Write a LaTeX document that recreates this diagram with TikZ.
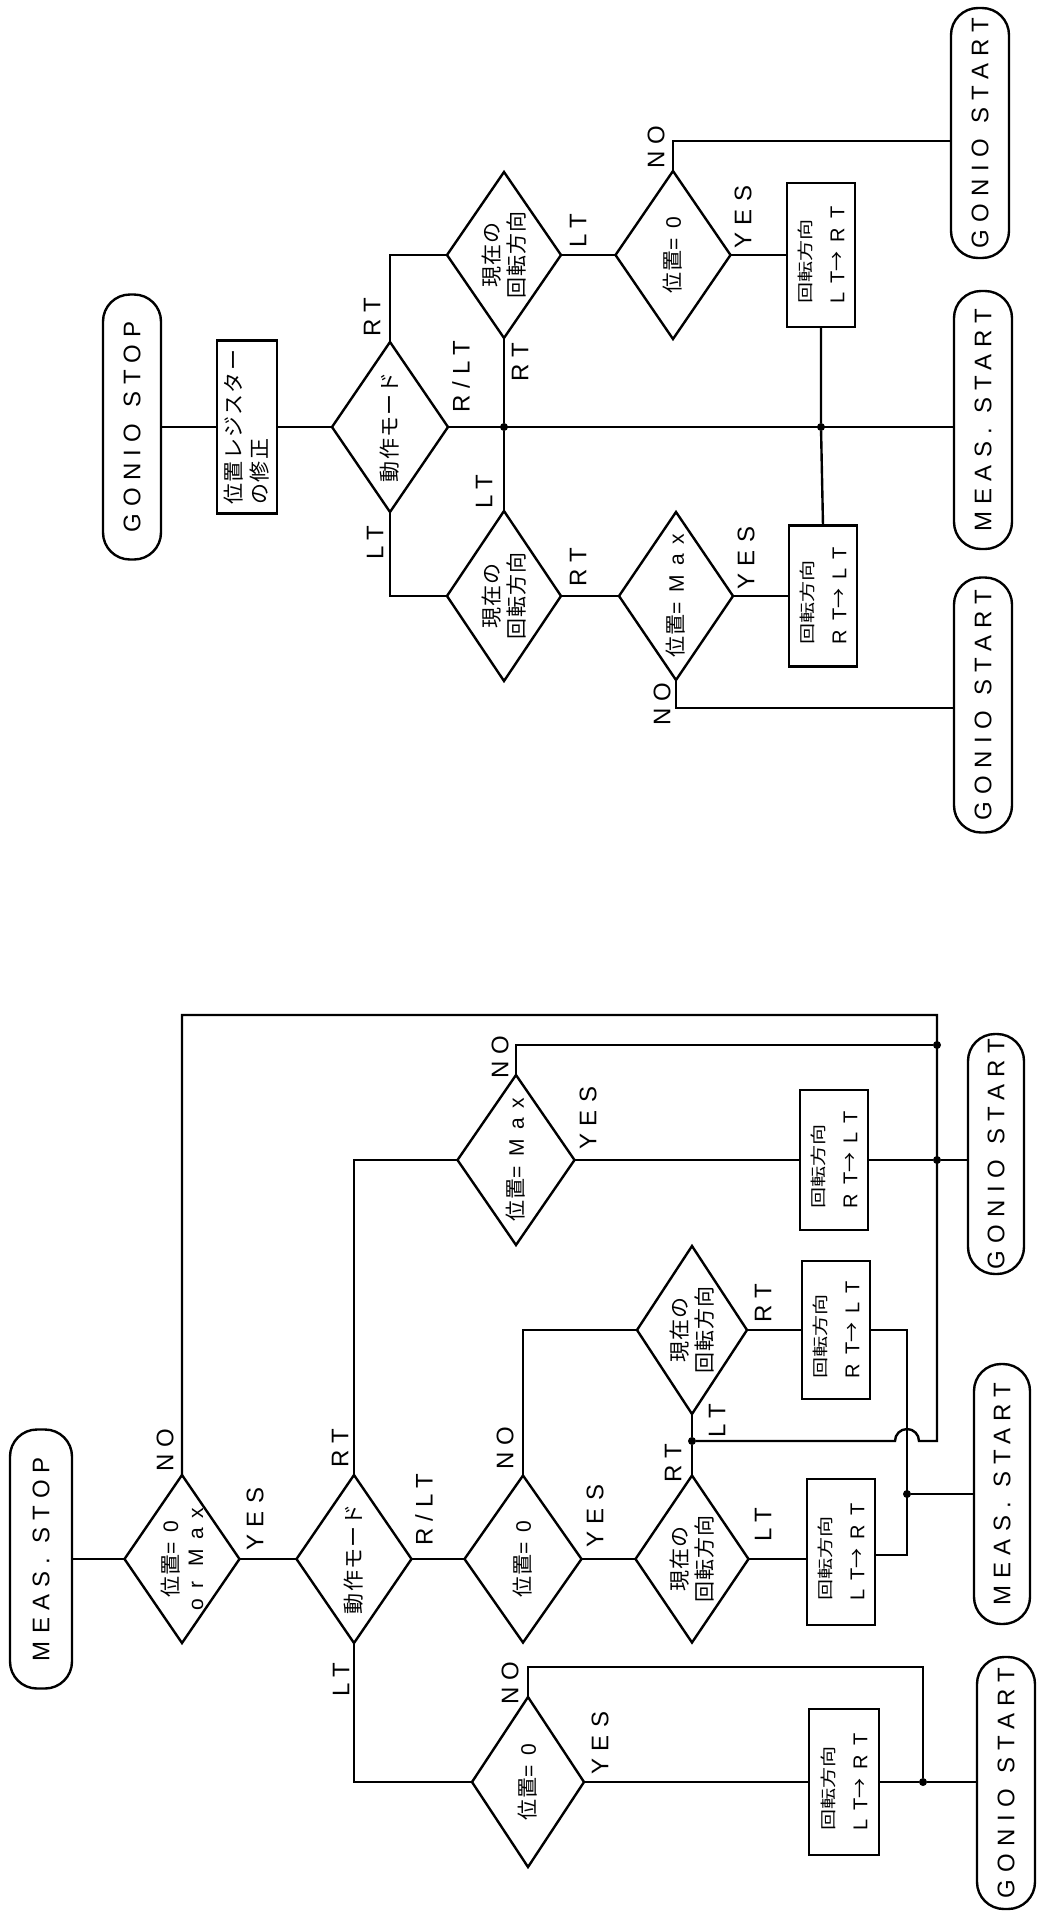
\documentclass[tikz,border=0pt]{standalone}
\usepackage{fontspec}
\usepackage{graphicx}
\usetikzlibrary{shapes.geometric}
\newfontfamily\jp[LetterSpace=6]{Noto Sans CJK JP}
\newfontfamily\jpa{Noto Sans CJK JP}
\newfontfamily\lat[LetterSpace=30]{Liberation Sans}
\newfontfamily\latw[LetterSpace=45]{Liberation Sans}
\newfontfamily\latb[LetterSpace=50]{Liberation Sans}
\newcommand\kaiten{\scalebox{1.32}[1]{\jpa\fontsize{16pt}{20pt}\selectfont 回転方向}}
\newcommand\bxl[2]{{\fontsize{20pt}{32pt}\selectfont\latb #1}{\fontsize{20pt}{32pt}\selectfont\jpa →}{\fontsize{20pt}{32pt}\selectfont\latb\hspace{9pt}#2}}
\begin{document}
\begin{tikzpicture}[x=1pt,y=-1pt,line width=2.4pt,
  every node/.style={inner sep=0pt,outer sep=0pt},
  term/.style={draw,rectangle,rounded corners=27pt,minimum width=58pt},
  rbox/.style={draw,rectangle,minimum width=68pt},
  dia/.style={draw,diamond,shape aspect=0.68},
  jdot/.style={circle,fill,minimum size=8pt},
  tt/.style={rotate=90,font=\lat\fontsize{24pt}{28pt}\selectfont},
  lab/.style={rotate=90,font=\lat\fontsize{24pt}{28pt}\selectfont},
  dt/.style={rotate=90,align=center,font=\jp\fontsize{21pt}{25pt}\selectfont},
  dtl/.style={rotate=90,align=left,font=\jp\fontsize{21pt}{26pt}\selectfont},
  bt/.style={rotate=90,align=left,font=\jpa\fontsize{17pt}{33pt}\selectfont},
]
\useasboundingbox (0,0) rectangle (1041,1920);

% ================= top diagram =================
\node[term,minimum height=265pt] (gstop) at (132,427) {};
\node[tt] (gstopT) at (gstop) {GONIO\hspace{16pt}STOP};
\node[rbox,minimum width=60pt,minimum height=173pt] (reg) at (247,427) {};
\node[dtl] (regT) at (reg) {位置レジスター\\の修正};
\node[dia,minimum width=116pt,minimum height=170pt] (modeA) at (390,427) {};
\node[dt] (modeAT) at (modeA) {動作モード};
\node[dia,minimum width=114pt,minimum height=166pt] (curAu) at (504,255) {};
\node[dt] (curAuT) at (curAu) {現在の\\回転方向};
\node[dia,minimum width=114pt,minimum height=170pt] (curAl) at (504,596) {};
\node[dt] (curAlT) at (curAl) {現在の\\回転方向};
\node[dia,minimum width=115pt,minimum height=168pt] (posA0) at (673,255) {};
\node[dt] (posA0T) at (posA0) {位置{\latw =0}};
\node[dia,minimum width=114pt,minimum height=168pt] (posAM) at (676,596) {};
\node[dt] (posAMT) at (posAM) {位置{\latw =Max}};
\node[rbox,minimum height=144pt] (boxAu) at (821,255) {};
\node[bt] (boxAuT) at (boxAu) {\kaiten\\\bxl{LT}{RT}};
\node[rbox,minimum height=141pt] (boxAl) at (823,596) {};
\node[bt] (boxAlT) at (boxAl) {\kaiten\\\bxl{RT}{LT}};
\node[term,minimum height=250pt] (gsA) at (980,133) {};
\node[tt] (gsAT) at (gsA) {GONIO\hspace{16pt}START};
\node[term,minimum height=258pt] (msA) at (983,420) {};
\node[tt] (msAT) at (msA) {MEAS.\hspace{14pt}START};
\node[term,minimum height=255pt] (gsB) at (983,705) {};
\node[tt] (gsBT) at (gsB) {GONIO\hspace{16pt}START};
\node[jdot] (jA1) at (504,427) {};
\node[jdot] (jA2) at (821,427) {};
\coordinate (nA1) at (673,141);
\coordinate (nA2) at (676,708);

\draw (gstop.east) -- (reg.west);
\draw (reg.east) -- (modeA.west);
\draw (modeA.north) |- (curAu.west);
\draw (modeA.south) |- (curAl.west);
\draw (modeA.east) -- (modeA.east -| msA.west);
\draw (curAu.south) -- (jA1) -- (curAl.north);
\draw (curAu.east) -- (posA0.west);
\draw (posA0.north) -- (nA1) -- (nA1 -| gsA.west);
\draw (posA0.east) -- (boxAu.west);
\draw (boxAu.south) -- (jA2) -- (boxAl.north);
\draw (curAl.east) -- (posAM.west);
\draw (posAM.east) -- (boxAl.west);
\draw (posAM.south) -- (nA2) -- (nA2 -| gsB.west);

\node[lab] (lA1) at (372,317) {RT};
\node[lab] (lA2) at (375,543) {LT};
\node[lab] (lA3) at (461,377) {R/LT};
\node[lab] (lA4) at (520,362) {RT};
\node[lab] (lA5) at (484,492) {LT};
\node[lab] (lA6) at (578,231) {LT};
\node[lab] (lA7) at (578,567) {RT};
\node[lab] (lA8) at (656,147) {NO};
\node[lab] (lA9) at (743,217) {YES};
\node[lab] (lA10) at (746,558) {YES};
\node[lab] (lA11) at (662,704) {NO};

% ================= bottom diagram =================
\node[term,minimum width=62pt,minimum height=259pt] (mstop) at (41,1559) {};
\node[tt] (mstopT) at (mstop) {MEAS.\hspace{14pt}STOP};
\node[dia,minimum width=115pt,minimum height=168pt] (dB1) at (182,1559) {};
\node[dt] (dB1T) at (dB1) {位置{\latw =0}\\{\latw or Max}};
\node[dia,minimum width=115pt,minimum height=168pt] (dB2) at (354,1559) {};
\node[dt] (dB2T) at (dB2) {動作モード};
\node[dia,minimum width=117pt,minimum height=170pt] (dB3) at (516,1160) {};
\node[dt] (dB3T) at (dB3) {位置{\latw =Max}};
\node[dia,minimum width=110pt,minimum height=168pt] (dB6) at (692,1330) {};
\node[dt] (dB6T) at (dB6) {現在の\\回転方向};
\node[dia,minimum width=117pt,minimum height=167pt] (dB4) at (523,1559) {};
\node[dt] (dB4T) at (dB4) {位置{\latw =0}};
\node[dia,minimum width=113pt,minimum height=167pt] (dB5) at (692,1559) {};
\node[dt] (dB5T) at (dB5) {現在の\\回転方向};
\node[dia,minimum width=112pt,minimum height=170pt] (dB7) at (528,1782) {};
\node[dt] (dB7T) at (dB7) {位置{\latw =0}};
\node[rbox,minimum height=140pt] (bB3) at (834,1160) {};
\node[bt] (bB3T) at (bB3) {\kaiten\\\bxl{RT}{LT}};
\node[rbox,minimum height=138pt] (bB6) at (836,1330) {};
\node[bt] (bB6T) at (bB6) {\kaiten\\\bxl{RT}{LT}};
\node[rbox,minimum height=146pt] (bB5) at (841,1552) {};
\node[bt] (bB5T) at (bB5) {\kaiten\\\bxl{LT}{RT}};
\node[rbox,minimum width=70pt,minimum height=146pt] (bB7) at (844,1782) {};
\node[bt] (bB7T) at (bB7) {\kaiten\\\bxl{LT}{RT}};
\node[term,minimum width=56pt,minimum height=240pt] (gsM) at (996,1154) {};
\node[tt] (gsMT) at (gsM) {GONIO\hspace{16pt}START};
\node[term,minimum width=56pt,minimum height=260pt] (msB) at (1002,1494) {};
\node[tt] (msBT) at (msB) {MEAS.\hspace{14pt}START};
\node[term,minimum height=252pt] (gsL) at (1006,1783) {};
\node[tt] (gsLT) at (gsL) {GONIO\hspace{16pt}START};

\node[jdot] (jB1) at (937,1045) {};
\node[jdot] (jB2) at (937,1160) {};
\node[jdot] (jB3) at (907,1494) {};
\node[jdot] (jB4) at (692,1441) {};
\node[jdot] (jB5) at (923,1782) {};
\coordinate (tB1) at (182,1015);
\coordinate (tB2) at (937,1015);
\coordinate (tB3) at (937,1441);
\coordinate (hB) at (907,1441);
\coordinate (cB1) at (907,1330);
\coordinate (cB2) at (907,1555);
\coordinate (nB7) at (528,1667);

\draw (mstop.east) -- (dB1.west);
\draw (dB1.east) -- (dB2.west);
\draw (dB1.north) -- (tB1) -- (tB2) -- (tB3) -- ([xshift=12pt]hB) arc[start angle=0,end angle=180,radius=12pt] -- (jB4);
\draw (dB3.north) |- (jB1);
\draw (dB3.east) -- (bB3.west);
\draw (bB3.east) -- (jB2) -- (jB2 -| gsM.west);
\draw (dB2.north) |- (dB3.west);
\draw (dB2.south) |- (dB7.west);
\draw (dB2.east) -- (dB4.west);
\draw (dB4.north) |- (dB6.west);
\draw (dB4.east) -- (dB5.west);
\draw (dB6.east) -- (bB6.west);
\draw (dB6.south) -- (jB4) -- (dB5.north);
\draw (dB5.east) -- (dB5.east -| bB5.west);
\draw (bB6.east) -- (cB1) -- (cB2) -- (cB2 -| bB5.east);
\draw (jB3) -- (jB3 -| msB.west);
\draw (dB7.north) -- (nB7) -| (jB5);
\draw (dB7.east) -- (bB7.west);
\draw (bB7.east) -- (jB5) -- (jB5 -| gsL.west);

\node[lab] (lB1) at (165,1450) {NO};
\node[lab] (lB2) at (255,1519) {YES};
\node[lab] (lB3) at (340,1448) {RT};
\node[lab] (lB4) at (341,1680) {LT};
\node[lab] (lB5) at (424,1510) {R/LT};
\node[lab] (lB6) at (500,1057) {NO};
\node[lab] (lB7) at (588,1118) {YES};
\node[lab] (lB8) at (763,1303) {RT};
\node[lab] (lB9) at (717,1421) {LT};
\node[lab] (lB10) at (673,1463) {RT};
\node[lab] (lB11) at (505,1448) {NO};
\node[lab] (lB12) at (595,1516) {YES};
\node[lab] (lB13) at (763,1525) {LT};
\node[lab] (lB14) at (510,1683) {NO};
\node[lab] (lB15) at (600,1743) {YES};
\end{tikzpicture}
\end{document}
